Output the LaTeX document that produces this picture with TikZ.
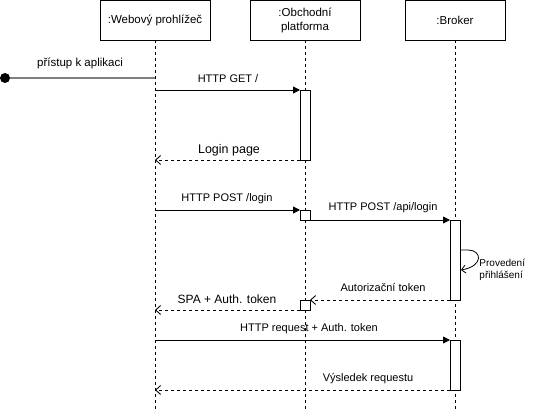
\documentclass[tikz,border=0pt]{standalone}
\usepackage{fontspec}
\setmainfont{Liberation Sans}
\usetikzlibrary{arrows.meta}

\begin{document}
\begin{tikzpicture}[x=1pt,y=-1pt,line width=0.9pt]
\useasboundingbox (0,0) rectangle (533,412);
\tikzstyle{object}=[rectangle,draw=black,fill=white,minimum height=40pt,inner sep=1pt,align=center,font=\fontsize{11.5}{14}\selectfont]
\tikzstyle{bar}=[rectangle,draw=black,fill=white,minimum width=10pt,inner sep=0pt,outer sep=0pt,anchor=north]
\tikzstyle{lifeline}=[dash pattern=on 3pt off 3pt]
\tikzstyle{edge}=[-{Triangle[length=7pt,width=7pt]}]
\tikzstyle{reply}=[dash pattern=on 3pt off 3pt,-{Straight Barb[length=5pt,width=9pt]}]
\tikzstyle{msglabel}=[inner sep=1pt,font=\fontsize{11}{13}\selectfont]
%objects
\node[object,minimum width=110pt] (v1) at (155,20) {:Webový prohlížeč};
\node[object,minimum width=110pt] (v2) at (305,20) {:Obchodní\\platforma};
\node[object,minimum width=100pt] (v3) at (455,20) {:Broker};
\coordinate (e1) at (155,412);
\coordinate (e2) at (305,412);
\coordinate (e3) at (455,412);
\draw[lifeline] (v1.south) -- (e1);
\draw[lifeline] (v2.south) -- (e2);
\draw[lifeline] (v3.south) -- (e3);
%activation bars
\node[bar,minimum height=70pt] (A1) at (305,90) {};
\node[bar,minimum height=10pt] (A2) at (305,210) {};
\node[bar,minimum height=10pt] (A3) at (305,300) {};
\node[bar,minimum height=80pt] (B1) at (455,220) {};
\node[bar,minimum height=50pt] (B2) at (455,340) {};
%points on the browser lifeline
\coordinate (w0) at (155,78);
\coordinate (w1) at (155,90);
\coordinate (w2) at (155,160);
\coordinate (w3) at (155,210);
\coordinate (w4) at (155,310);
\coordinate (w5) at (155,340);
\coordinate (w6) at (155,390);
%start
\node[circle,fill=black,inner sep=0pt,minimum size=10pt] (start) at (5,78) {};
\draw[gray,line width=1.3pt] (start) -- (w0);
\node[msglabel,font=\fontsize{11.5}{13}\selectfont] (t0) at (80,63) {přístup k aplikaci};
%login page
\draw[edge] (w1) -- (A1.north west);
\node[msglabel] (t1) at (228,79) {HTTP GET /};
\draw[reply] (A1.south west) -- (w2);
\node[msglabel,font=\fontsize{12.5}{14}\selectfont] (t2) at (229,150) {Login page};
%login
\draw[edge] (w3) -- (A2.north west);
\node[msglabel] (t3) at (227,199) {HTTP POST /login};
\draw[edge] (A2.south east) -- (B1.north west);
\node[msglabel] (t4) at (383,208) {HTTP POST /api/login};
\coordinate (s1) at (460,250);
\coordinate (s2) at (461,270);
\draw[-{Straight Barb[length=4pt,width=8pt]},line width=0.8pt] (s1) -- (468,250) .. controls (482,250) and (484,266) .. (s2);
\node[inner sep=0pt,anchor=west,align=left,font=\fontsize{10}{12}\selectfont] (t5) at (479,270) {Provedení\\přihlášení};
\draw[reply] (B1.south west) -- (A3.north east);
\node[msglabel] (t6) at (383,288) {Autorizační token};
\draw[reply] (A3.south west) -- (w4);
\node[msglabel,font=\fontsize{12}{14}\selectfont] (t7) at (227,299) {SPA + Auth. token};
%request
\draw[edge] (w5) -- (B2.north west);
\node[msglabel] (t8) at (309,329) {HTTP request + Auth. token};
\draw[reply] (B2.south west) -- (w6);
\node[msglabel] (t9) at (368,379) {Výsledek requestu};
\end{tikzpicture}
\end{document}
